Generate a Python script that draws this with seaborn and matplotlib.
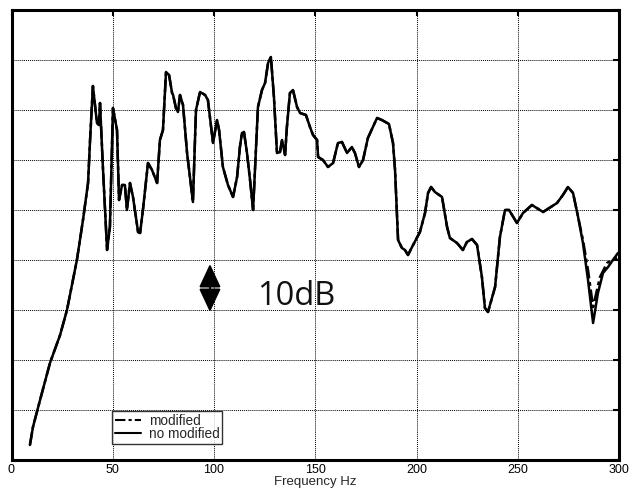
import matplotlib
matplotlib.use("Agg")
import matplotlib.pyplot as plt
import seaborn as sns
import pandas as pd
import numpy as np

# ---- data ----
freq_common = [9.1, 10.6, 14.1, 19.0, 24.0, 27.4, 32.3, 35.3, 37.8, 38.8, 40.2, 42.2, 43.2, 43.7,
               45.2, 47.2, 48.6, 50.1, 52.1, 53.1, 54.6, 56.0, 57.0, 58.5, 60.0, 62.5, 63.5, 64.9,
               67.4, 69.4, 71.9, 73.3, 74.8, 76.3, 77.8, 79.3, 79.8, 81.2, 82.2, 83.2, 84.7, 86.7,
               89.6, 91.1, 93.1, 95.6, 97.0, 99.5, 101.5, 102.5, 104.4, 106.9, 109.4, 111.4, 112.8,
               113.8, 114.8, 116.3, 117.8, 119.3, 121.7, 123.7, 125.2, 126.7, 128.1, 129.6, 131.1,
               132.6, 133.6, 135.1, 136.0, 137.5, 139.0, 141.0, 142.5, 145.4, 147.4, 148.9, 150.9,
               151.4, 153.8, 156.3, 158.8, 161.2, 163.2, 165.7, 168.1, 169.6, 171.6, 173.6, 176.0,
               180.5, 182.9, 186.4, 188.4, 189.4, 190.9, 192.8, 194.3, 195.8, 197.8, 201.7, 204.2,
               205.7, 207.2, 209.1, 212.6, 215.1, 216.5, 220.0, 222.9, 224.9, 227.4, 229.9, 232.3,
               233.8, 235.3, 238.8, 241.2, 243.7, 245.7, 249.6, 252.6, 257.0, 262.5, 269.4, 272.3,
               274.8, 277.3, 279.8]
level_common = [3.0, 6.6, 12.0, 19.4, 25.0, 30.0, 40.0, 48.0, 55.4, 64.0, 74.8, 67.4, 67.0, 71.4,
                58.0, 42.0, 46.6, 70.4, 66.0, 52.0, 55.0, 55.0, 50.0, 55.4, 52.6, 45.6, 45.4, 50.0,
                59.4, 58.0, 55.4, 64.0, 66.0, 77.6, 77.0, 73.4, 73.0, 70.4, 69.6, 73.0, 71.0, 61.4,
                51.6, 70.0, 73.6, 73.0, 72.0, 63.4, 68.0, 66.0, 58.6, 55.0, 52.6, 56.6, 62.6,
                65.4, 65.6, 61.4, 56.0, 50.0, 70.6, 74.0, 75.4, 79.4, 80.6, 72.6, 61.4,
                61.6, 64.0, 61.0, 66.6, 73.4, 74.0, 70.6, 69.4, 69.0, 66.6, 65.0, 64.0,
                60.6, 60.0, 58.6, 59.4, 63.4, 63.6, 61.4, 62.6, 61.4, 58.6, 60.0, 64.4,
                68.4, 68.0, 67.2, 63.4, 58.0, 44.0, 42.4, 42.0, 41.0, 42.6, 45.6, 49.4,
                53.4, 54.6, 53.6, 52.6, 46.6, 44.4, 43.4, 42.0, 43.6, 44.2, 43.0, 36.6,
                30.4, 29.6, 34.6, 44.6, 50.0, 50.0, 47.4, 49.4, 51.0, 49.6, 51.4, 53.0,
                54.6, 53.4, 48.6]
freq_tail_nomod = [282.2, 284.7, 287.2, 289.6, 292.1, 294.6, 297.0, 299.5]
level_tail_nomod = [43.4, 36.0, 27.4, 33.4, 37.4, 38.6, 40.0, 41.4]
freq_tail_mod = [282.2, 284.7, 287.2, 290.6, 294.1, 296.5, 299.0]
level_tail_mod = [44.0, 38.0, 30.6, 36.6, 39.4, 40.0, 40.5]

xticks = [0, 50, 100, 150, 200, 250, 300]
yticks = [0, 10, 20, 30, 40, 50, 60, 70, 80, 90]

df_nomod = pd.DataFrame({"f": freq_common + freq_tail_nomod, "L": level_common + level_tail_nomod})
df_mod = pd.DataFrame({"f": freq_common + freq_tail_mod, "L": level_common + level_tail_mod})

sns.set_style("white")
plt.rcParams["font.family"] = ["Liberation Sans", "DejaVu Sans"]

fig = plt.figure(figsize=(6.29, 4.92), dpi=100)
ax = fig.add_axes([11.5 / 629, 32 / 492, (619 - 11.5) / 629, 450 / 492])

sns.lineplot(data=df_mod, x="f", y="L", ax=ax, color="black", linewidth=1.8,
             sort=False, estimator=None, label="modified", dashes=False)
ax.lines[-1].set_dashes([5, 1.5, 1.5, 1.5])
sns.lineplot(data=df_nomod, x="f", y="L", ax=ax, color="black", linewidth=1.8,
             sort=False, estimator=None, label="no modified")

ax.set_xlim(0, 300)
ax.set_ylim(0, 90)
ax.set_xticks(xticks)
ax.set_yticks(yticks)
ax.set_yticklabels([])
ax.grid(True, color="black", linestyle=(0, (1, 1)), linewidth=0.7)
ax.tick_params(axis="both", direction="in", length=4, width=1.5, top=True, right=True,
               labelsize=9, pad=3, colors="black")
for s in ax.spines.values():
    s.set_linewidth(2.2)
    s.set_color("black")
ax.set_xlabel("Frequency Hz", fontsize=9.5, labelpad=0)
ax.set_ylabel("")

# 10 dB double arrow
ax.annotate("", xy=(98, 29.6), xytext=(98, 39.2),
            arrowprops=dict(arrowstyle="<|-|>,head_length=0.9,head_width=0.42",
                            mutation_scale=16, color="black", linewidth=1.5,
                            shrinkA=0, shrinkB=0))
ax.text(140.5, 31.0, "10dB", fontsize=23.5, color="#111111", ha="center", va="baseline",
        family=["Open Sans", "DejaVu Sans"])

leg = ax.legend(loc="lower left", bbox_to_anchor=(0.1654, 0.0356), fontsize=9.8,
                frameon=True, fancybox=False, handlelength=1.9, borderpad=0.2,
                labelspacing=-0.05, handletextpad=0.6, borderaxespad=0)
leg.get_frame().set_edgecolor("black")
leg.get_frame().set_linewidth(1.0)
for h in leg.get_lines():
    h.set_linewidth(1.5)

fig.savefig("out.png", dpi=100)
